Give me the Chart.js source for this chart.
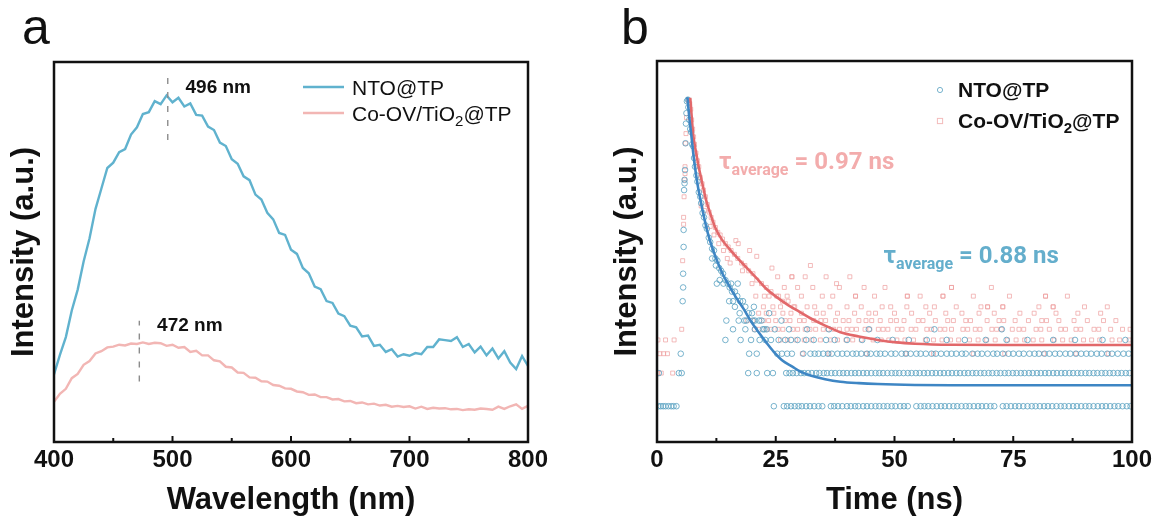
<!DOCTYPE html>
<html>
<head>
<meta charset="utf-8">
<script src="https://cdn.jsdelivr.net/npm/chart.js@4.4.1/dist/chart.umd.min.js"></script>
<style>
  html, body { margin: 0; padding: 0; background: #fff; }
  #wrap { position: relative; width: 1163px; height: 525px; }
  canvas { position: absolute; top: 0; }
  #pl { left: 0; }
  #fl { left: 581px; }
</style>
</head>
<body>
<div id="wrap">
  <canvas id="pl" width="581" height="525"></canvas>
  <canvas id="fl" width="582" height="525"></canvas>
</div>
<script>
// ---------- panel a : steady-state PL (y in arbitrary units 0..100) ----------
const wavelengths = [400, 405, 410, 415, 420, 425, 430, 435, 440, 445, 450, 455, 460, 465, 470, 475, 480, 485, 490, 495,
  500, 505, 510, 515, 520, 525, 530, 535, 540, 545, 550, 555, 560, 565, 570, 575, 580, 585, 590, 595,
  600, 605, 610, 615, 620, 625, 630, 635, 640, 645, 650, 655, 660, 665, 670, 675, 680, 685, 690, 695,
  700, 705, 710, 715, 720, 725, 730, 735, 740, 745, 750, 755, 760, 765, 770, 775, 780, 785, 790, 795, 800];
const ntoPL = [17.8, 22.9, 27.6, 34.6, 40.1, 47.5, 53.6, 61.3, 66.7, 72.1, 73.5, 76.3, 77.1, 80.9, 82.8, 86.3, 86.8, 89.7, 88.9, 91.2,
  89.4, 90.6, 88.3, 89.1, 86.1, 85.9, 83.0, 82.1, 78.8, 77.9, 74.4, 73.2, 69.9, 68.9, 65.1, 63.8, 60.3, 58.6, 55.0, 54.5,
  50.6, 49.5, 45.8, 44.4, 40.9, 40.2, 37.1, 36.6, 33.8, 33.1, 30.6, 30.2, 27.8, 28.0, 25.3, 25.6, 23.7, 24.4, 22.5, 23.1,
  22.7, 23.4, 23.1, 25.0, 25.0, 27.0, 26.8, 26.6, 27.6, 25.0, 25.8, 23.6, 25.1, 22.8, 24.6, 22.0, 23.9, 20.9, 19.2, 22.6, 20.0];
const coPL = [10.6, 12.7, 14.0, 16.8, 17.9, 20.3, 21.3, 23.3, 23.9, 24.9, 25.1, 25.6, 25.4, 25.9, 25.8, 26.2, 25.8, 26.1, 26.0, 25.3,
  25.6, 24.8, 25.0, 23.7, 24.0, 22.8, 22.8, 21.5, 21.2, 19.8, 19.6, 18.3, 18.2, 17.0, 16.9, 16.0, 15.9, 15.0, 14.8, 14.1,
  14.0, 13.3, 13.1, 12.4, 12.5, 11.8, 11.8, 11.2, 11.3, 10.7, 10.8, 10.2, 10.4, 9.9, 10.1, 9.6, 9.8, 9.3, 9.5, 9.2,
  9.4, 8.8, 9.3, 8.7, 9.0, 8.8, 8.9, 8.6, 8.7, 8.4, 8.6, 8.5, 8.8, 8.7, 8.5, 9.3, 8.7, 9.4, 9.9, 8.7, 9.5];
const waveTicks = [400, 500, 600, 700, 800];
const waveMinor = [450, 550, 650, 750];
const peakNm = [496, 472];
const peakSpan = [[79.5, 96.6], [15.9, 31.9]];
const peakText = ['496 nm', '472 nm'];
const peakTextAt = [[511, 93.1], [487, 30.7]];

// ---------- panel b : TRPL decay (counts, log axis) ----------
const timeTicks = [0, 25, 50, 75, 100];
const timeMinor = [12.5, 37.5, 62.5, 87.5];
const ntoFit = [[6.4, 644], [6.8, 420], [7.2, 298], [7.6, 205], [8.0, 148], [8.6, 100], [9.2, 73], [10.0, 50], [10.8, 36],
  [11.7, 27], [12.7, 20.7], [13.8, 16], [15.1, 12.6], [16.6, 9.8], [18.2, 7.7], [19.8, 5.9], [21.4, 4.7], [23.0, 3.8],
  [24.5, 3.15], [26.4, 2.6], [28.4, 2.3], [30.3, 2.05], [32.3, 1.9], [35.4, 1.76], [38.6, 1.67], [42.5, 1.62],
  [46.5, 1.59], [54.3, 1.56], [62, 1.55], [75, 1.55], [100, 1.55]];
const coFit = [[7.0, 635], [7.3, 430], [7.6, 298], [8.2, 205], [8.8, 148], [9.6, 103], [10.4, 73], [11.3, 55], [12.3, 41.6],
  [13.6, 33], [15.1, 27.3], [17.0, 22], [19.0, 17.9], [21.0, 14.5], [22.9, 11.8], [25.2, 9.8], [27.6, 8.3], [30.0, 7.2],
  [32.3, 6.3], [35.4, 5.4], [38.6, 4.7], [42.5, 4.3], [46.5, 4.0], [50.4, 3.8], [54.3, 3.7], [62, 3.62], [75, 3.6], [100, 3.6]];

// NTO@TP photon counts: times (ns) at each count level
const ntoCount1 = [0.3, 0.8, 1.3, 1.8, 2.4, 3.0, 3.5, 4.1, 24.6, 26.7, 27.4, 28.2, 29.0, 29.8, 30.5, 31.4, 32.2, 33.1, 34.0, 34.8,
  36.6, 37.3, 38.1, 39.0, 40.0, 40.8, 41.7, 42.4, 43.4, 44.2, 45.1, 46.0, 46.8, 47.7, 48.5, 49.4, 50.2, 51.2, 52.0, 52.8,
  54.6, 55.5, 56.3, 57.1, 58.0, 58.9, 59.8, 60.6, 61.5, 62.4, 63.2, 64.1, 65.0, 65.8, 66.7, 67.6, 68.4, 69.3, 70.2, 71.0,
  72.8, 73.6, 74.5, 75.4, 76.2, 77.1, 78.0, 78.9, 79.7, 80.6, 81.5, 82.3, 83.2, 84.1, 85.0, 85.8, 86.7, 87.6, 88.4, 89.3,
  90.2, 91.0, 91.9, 92.8, 93.7, 94.5, 95.4, 96.3, 97.1, 98.0, 98.9, 99.7];
const ntoCount2 = [0.4, 4.6, 5.2, 19.2, 21.0, 23.2, 24.4, 27.2, 27.9, 28.6, 29.4, 30.3, 31.0, 31.8, 32.6, 33.5, 34.2, 35.1, 35.8,
  36.7, 37.5, 38.4, 39.2, 40.0, 40.9, 41.7, 42.5, 43.4, 44.2, 45.1, 46.0, 46.8, 47.6, 48.5, 49.4, 50.2, 51.0, 51.9, 52.8,
  53.6, 54.5, 55.3, 56.2, 57.0, 57.9, 58.7, 59.6, 60.4, 61.3, 62.1, 63.0, 63.8, 64.7, 65.5, 66.4, 67.2, 68.1, 68.9, 69.8,
  70.6, 71.5, 72.3, 73.2, 74.0, 74.9, 75.7, 76.6, 77.4, 78.3, 79.1, 80.0, 80.8, 81.7, 82.5, 83.4, 84.2, 85.1, 85.9, 86.8,
  87.6, 88.5, 89.3, 90.2, 91.0, 91.9, 92.7, 93.6, 94.4, 95.3, 96.1, 97.0, 97.8, 98.7, 99.5];
const ntoCount3 = [5.0, 19.4, 21.0, 25.3, 26.3, 27.4, 28.4, 30.8, 32.3, 33.2, 34.0, 35.0, 36.0, 36.8, 38.0, 39.0, 40.0, 41.2,
  42.0, 43.0, 44.2, 45.0, 46.2, 47.0, 48.0, 49.3, 50.2, 51.5, 52.4, 53.4, 54.6, 55.5, 56.6, 57.8, 58.7, 59.8, 61.0, 62.0,
  63.0, 64.2, 65.0, 66.4, 67.5, 68.4, 69.6, 70.8, 71.6, 72.8, 74.0, 75.0, 76.2, 77.2, 78.4, 79.5, 80.4, 81.6, 82.6, 83.8,
  84.8, 86.0, 87.0, 88.2, 89.3, 90.4, 91.4, 92.6, 93.6, 94.8, 95.8, 97.0, 98.2, 99.3];
const ntoCount4 = [14.4, 17.6, 19.8, 21.6, 22.8, 24.0, 25.6, 27.0, 28.2, 29.6, 31.4, 33.0, 35.6, 37.4, 40.0, 43.2, 46.4, 49.6,
  53.0, 56.8, 61.0, 64.8, 69.2, 73.6, 78.0, 83.4, 88.0, 93.8, 98.6];
const ntoCount5 = [16.0, 18.6, 20.6, 22.6, 24.8, 27.8, 31.6, 36.2, 44.6, 58.4, 72.6];
const ntoCount6 = [14.6, 17.2, 18.8, 20.2, 22.0, 26.2];
const ntoDecay = [[5.4, 9], [5.5, 12], [5.5, 16], [5.6, 28], [5.6, 40], [5.7, 92], [5.8, 106], [5.8, 114], [5.9, 140],
  [6.0, 245], [6.1, 370], [6.2, 460], [6.3, 590], [6.5, 610], [6.6, 520], [6.8, 400], [7.0, 330], [7.2, 310], [7.4, 240],
  [7.6, 230], [7.8, 180], [8.0, 150], [8.3, 125], [8.5, 110], [8.8, 88], [9.1, 80], [9.3, 70], [9.6, 57], [9.9, 52],
  [10.2, 44], [10.5, 41], [10.9, 34], [11.2, 31], [11.6, 27], [12.0, 26], [12.3, 22], [12.7, 21], [13.1, 18], [13.5, 17],
  [13.9, 16], [14.4, 14], [14.9, 13], [15.3, 12], [15.8, 11], [16.4, 11], [16.9, 10], [17.5, 9], [18.1, 9], [18.6, 8],
  [19.3, 7], [20.0, 7], [20.6, 6], [21.5, 6], [22.3, 5], [23.1, 5], [11.6, 22], [12.4, 19], [13.2, 14], [14.0, 13],
  [15.2, 9], [16.0, 9], [17.4, 7], [18.4, 6], [12.6, 13], [15.6, 13], [17.0, 13], [16.4, 8], [20.4, 8], [23.6, 7]];

// Co-OV/TiO2@TP photon counts: times (ns) at each count level
const coCount2 = [0.2, 0.9, 3.3];
const coCount3 = [0.6, 1.4, 2.2, 30.6, 36.2, 44.0, 52.4, 58.2, 66.6, 73.2, 81.4, 88.2, 95.0];
const coCount4 = [0.2, 1.8, 3.6, 26.0, 27.5, 29.2, 31.0, 32.6, 34.4, 36.5, 38.0, 39.8, 41.2, 43.0, 45.5, 47.2, 48.8, 50.5,
  52.2, 54.0, 56.5, 58.2, 60.0, 61.8, 63.5, 65.8, 67.6, 69.4, 71.2, 73.8, 75.6, 77.4, 79.2, 81.0, 83.6, 85.4, 87.2, 89.8,
  91.5, 93.2, 95.8, 97.4, 99.4];
const coCount5 = [20.5, 21.5, 23.0, 24.0, 25.5, 26.5, 28.6, 29.6, 31.2, 32.2, 33.4, 35.0, 36.0, 37.2, 38.4, 40.0, 41.0, 42.0,
  43.8, 44.8, 46.6, 47.6, 48.6, 50.6, 51.6, 53.5, 54.5, 56.8, 57.8, 59.6, 60.6, 62.0, 64.4, 65.4, 67.0, 68.0, 70.5, 71.5,
  72.5, 74.8, 76.2, 77.2, 79.8, 80.8, 82.6, 85.0, 86.0, 88.2, 89.2, 92.0, 93.0, 95.5, 98.0, 99.6];
const coCount6 = [19.0, 20.2, 22.4, 23.5, 25.0, 27.0, 28.0, 30.0, 31.0, 33.0, 34.5, 35.5, 37.6, 39.2, 40.4, 42.5, 44.0, 45.2,
  47.0, 49.2, 50.4, 52.0, 55.0, 56.0, 58.6, 61.2, 62.4, 65.0, 66.0, 69.5, 72.0, 73.0, 75.4, 78.2, 81.0, 82.0, 84.6, 87.8,
  90.6, 94.0, 96.6];
const coCount7 = [21.4, 23.0, 24.6, 26.5, 28.2, 30.4, 33.6, 35.0, 38.0, 41.6, 44.6, 46.0, 50.0, 53.6, 57.4, 60.8, 64.2, 67.8,
  71.0, 76.4, 79.4, 84.0, 88.6, 93.4];
const coCount8 = [22.4, 24.4, 26.0, 28.8, 31.6, 33.2, 36.4, 40.0, 43.0, 47.4, 49.2, 52.6, 56.6, 58.4, 63.0, 68.2, 69.6, 72.8,
  80.4, 83.4, 90.0, 94.8];
const coCount10 = [20.8, 23.6, 25.6, 27.4, 30.4, 34.8, 37.0, 41.8, 45.8, 52.7, 55.4, 60.2, 66.6, 74.2, 81.8, 86.4];
const coCount12 = [26.8, 29.6, 32.8, 38.4, 43.6, 48.0, 62.0, 70.4];
const coCount15 = [25.4, 28.4, 31.2, 35.6, 40.6];
const coDecay = [[5.2, 5], [5.4, 21], [5.6, 45], [5.6, 52], [5.7, 80], [5.8, 114], [5.9, 130], [5.9, 150], [6.0, 245],
  [6.1, 300], [6.2, 420], [6.6, 600], [6.9, 560], [7.1, 500], [7.3, 400], [7.5, 330], [7.7, 280], [7.9, 240], [8.2, 200],
  [8.5, 170], [8.8, 150], [9.1, 120], [9.5, 105], [9.8, 92], [10.2, 80], [10.6, 68], [11.0, 58], [11.4, 52], [11.8, 47],
  [12.3, 42], [12.8, 38], [13.3, 36], [13.8, 33], [14.4, 30], [15.0, 28], [15.6, 26], [16.3, 24], [17.0, 22], [17.8, 20],
  [18.5, 19], [19.3, 17], [20.2, 16], [21.0, 14], [22.0, 13], [23.0, 12], [24.0, 11], [25.2, 10], [26.4, 9], [27.6, 9],
  [29.0, 8], [16.6, 32], [17.1, 30], [19.5, 26], [21.0, 23], [24.2, 18], [28.4, 15], [32.3, 19], [37.8, 13], [41.8, 10],
  [52.7, 10], [60.2, 10], [62.0, 12], [69.6, 8], [72.8, 8], [81.8, 10], [83.4, 8], [11.2, 43], [13.0, 30], [14.8, 22],
  [9.3, 66], [10.0, 60], [12.0, 36], [14.0, 26], [15.4, 20], [18.0, 17], [20.0, 13], [22.6, 10]];

const tauText = ['0.97 ns', '0.88 ns'];
const tauAt = [[13.05, 169], [47.7, 23.8]];

// ---------- colours ----------
const BLUE_PL = 'rgb(96,178,206)';
const PINK_PL = 'rgb(242,182,180)';
const BLUE_FIT = 'rgb(62,134,196)';
const RED_FIT = 'rgb(226,104,106)';
const BLUE_DOT = 'rgba(88,160,192,0.8)';
const PINK_DOT = 'rgba(238,158,158,0.7)';
const BLUE_TXT = 'rgb(100,174,204)';
const PINK_TXT = 'rgb(243,172,172)';
const INK = '#111';
const SANS = "'Liberation Sans', Arial, sans-serif";

Chart.defaults.font.family = SANS;
Chart.defaults.color = INK;

function richText(ctx, parts, x, y) {
  let cx = x;
  parts.forEach(([txt, font, dy]) => {
    ctx.font = font;
    ctx.fillText(txt, cx, y + dy);
    cx += ctx.measureText(txt).width;
  });
}

// box around plot + inward ticks on the bottom axis + panel letter
const frame = {
  id: 'frame',
  afterDraw(chart, args, opts) {
    const { ctx, chartArea: a } = chart;
    const x = chart.scales.x;
    ctx.save();
    ctx.strokeStyle = INK;
    ctx.lineWidth = 2;
    opts.major.forEach(v => {
      const px = x.getPixelForValue(v);
      ctx.beginPath(); ctx.moveTo(px, a.bottom); ctx.lineTo(px, a.bottom - 6); ctx.stroke();
    });
    opts.minor.forEach(v => {
      const px = x.getPixelForValue(v);
      ctx.beginPath(); ctx.moveTo(px, a.bottom); ctx.lineTo(px, a.bottom - 4); ctx.stroke();
    });
    ctx.lineWidth = 2.5;
    ctx.strokeRect(a.left, a.top, a.right - a.left, a.bottom - a.top);
    ctx.fillStyle = INK;
    ctx.font = '50px ' + SANS;
    ctx.textBaseline = 'alphabetic';
    ctx.fillText(opts.letter, opts.letterX, 44);
    ctx.restore();
  }
};

const plLabels = {
  id: 'plLabels',
  afterDraw(chart) {
    const { ctx, scales: { x, y } } = chart;
    const ds = chart.data.datasets;
    ctx.save();
    ctx.fillStyle = INK;
    ctx.textBaseline = 'middle';
    ctx.font = 'bold 19px ' + SANS;
    peakText.forEach((t, i) => ctx.fillText(t, x.getPixelForValue(peakTextAt[i][0]), y.getPixelForValue(peakTextAt[i][1])));
    // legend
    const rows = [[ds[0].borderColor, 87, [['NTO@TP', '21px ' + SANS, 0]]],
      [ds[1].borderColor, 113, [['Co-OV/TiO', '21px ' + SANS, 0], ['2', '15px ' + SANS, 5], ['@TP', '21px ' + SANS, 0]]]];
    ctx.lineWidth = 2.4;
    rows.forEach(([col, cy, parts]) => {
      ctx.strokeStyle = col;
      ctx.beginPath(); ctx.moveTo(303, cy); ctx.lineTo(344, cy); ctx.stroke();
      ctx.textBaseline = 'alphabetic';
      richText(ctx, parts, 352, cy + 7.5);
    });
    ctx.restore();
  }
};

const flLabels = {
  id: 'flLabels',
  afterDraw(chart) {
    const { ctx, scales: { x, y } } = chart;
    ctx.save();
    ctx.textBaseline = 'alphabetic';
    const cols = [PINK_TXT, BLUE_TXT];
    tauText.forEach((t, i) => {
      ctx.fillStyle = cols[i];
      const px = x.getPixelForValue(tauAt[i][0]);
      const py = y.getPixelForValue(tauAt[i][1]) + 8;
      richText(ctx, [['\u03C4', 'bold 24px Roboto', 0], ['average', 'bold 16px Roboto', 6], [' = ' + t, 'bold 24px Roboto', 0]], px, py);
    });
    // legend
    ctx.fillStyle = INK;
    ctx.lineWidth = 1;
    ctx.strokeStyle = BLUE_DOT;
    ctx.beginPath(); ctx.arc(359, 90, 2.6, 0, Math.PI * 2); ctx.stroke();
    ctx.strokeStyle = PINK_DOT;
    ctx.strokeRect(356.4, 118.4, 5.2, 5.2);
    richText(ctx, [['NTO@TP', 'bold 21px ' + SANS, 0]], 377, 96.5);
    richText(ctx, [['Co-OV/TiO', 'bold 21px ' + SANS, 0], ['2', 'bold 15px ' + SANS, 5], ['@TP', 'bold 21px ' + SANS, 0]], 377, 127.5);
    ctx.restore();
  }
};

const xy = (xs, ys) => xs.map((v, i) => ({ x: v, y: ys[i] }));
const pairs = arr => arr.map(([x, y]) => ({ x, y }));
const levels = list => list.flatMap(([c, ts]) => ts.map(t => ({ x: t, y: c })));

const axisTitle = (text, pad) => ({ display: true, text, color: INK, font: { size: 31, weight: 'bold' }, padding: pad });

// ---------- panel a ----------
new Chart(document.getElementById('pl'), {
  type: 'line',
  data: {
    datasets: [
      { label: 'NTO@TP', data: xy(wavelengths, ntoPL), borderColor: BLUE_PL, borderWidth: 2.4, pointRadius: 0, order: 2 },
      { label: 'Co-OV/TiO2@TP', data: xy(wavelengths, coPL), borderColor: PINK_PL, borderWidth: 2.4, pointRadius: 0, order: 3 },
      { label: 'peak NTO', data: [{ x: peakNm[0], y: peakSpan[0][0] }, { x: peakNm[0], y: peakSpan[0][1] }],
        borderColor: '#8c8c8c', borderWidth: 1.4, borderDash: [6, 8], pointRadius: 0, order: 0 },
      { label: 'peak Co', data: [{ x: peakNm[1], y: peakSpan[1][0] }, { x: peakNm[1], y: peakSpan[1][1] }],
        borderColor: '#8c8c8c', borderWidth: 1.4, borderDash: [6, 8], pointRadius: 0, order: 1 }
    ]
  },
  options: {
    responsive: false,
    animation: false,
    layout: { padding: { top: 62, right: 53, left: 0, bottom: 0 } },
    plugins: {
      legend: { display: false },
      tooltip: { enabled: false },
      frame: { major: waveTicks, minor: waveMinor, letter: 'a', letterX: 22 }
    },
    scales: {
      x: {
        type: 'linear', min: 400, max: 800,
        grid: { display: false, drawTicks: false }, border: { display: false },
        afterBuildTicks: s => { s.ticks = waveTicks.map(v => ({ value: v })); },
        afterFit: s => { s.height = 83; },
        ticks: { color: INK, font: { size: 24, weight: 'bold' }, padding: 4 },
        title: axisTitle('Wavelength (nm)', { top: 0, bottom: 6 })
      },
      y: {
        type: 'linear', min: 0, max: 100,
        grid: { display: false }, border: { display: false },
        ticks: { display: false },
        afterFit: s => { s.width = 54; },
        title: axisTitle('Intensity (a.u.)', { top: 6, bottom: 0 })
      }
    }
  },
  plugins: [frame, plLabels]
});

// ---------- panel b ----------
const dot = (data, style, color, order) => ({
  data, showLine: false, pointStyle: style, pointRadius: 2.8, borderWidth: 1,
  borderColor: color, backgroundColor: 'rgba(0,0,0,0)', order
});

new Chart(document.getElementById('fl'), {
  type: 'scatter',
  data: {
    datasets: [
      { label: 'NTO@TP fit', data: pairs(ntoFit), showLine: true, borderColor: BLUE_FIT, borderWidth: 2.6,
        pointRadius: 0, cubicInterpolationMode: 'monotone', order: 0 },
      { label: 'Co-OV/TiO2@TP fit', data: pairs(coFit), showLine: true, borderColor: RED_FIT, borderWidth: 2.6,
        pointRadius: 0, cubicInterpolationMode: 'monotone', order: 1 },
      dot(levels([[1, ntoCount1], [2, ntoCount2], [3, ntoCount3], [4, ntoCount4], [5, ntoCount5], [6, ntoCount6]])
        .concat(pairs(ntoDecay)), 'circle', BLUE_DOT, 2),
      dot(levels([[2, coCount2], [3, coCount3], [4, coCount4], [5, coCount5], [6, coCount6], [7, coCount7], [8, coCount8],
        [10, coCount10], [12, coCount12], [15, coCount15]]).concat(pairs(coDecay)), 'rect', PINK_DOT, 3)
    ]
  },
  options: {
    responsive: false,
    animation: false,
    layout: { padding: { top: 61, right: 31, left: 0, bottom: 0 } },
    plugins: {
      legend: { display: false },
      tooltip: { enabled: false },
      frame: { major: timeTicks, minor: timeMinor, letter: 'b', letterX: 40 }
    },
    scales: {
      x: {
        type: 'linear', min: 0, max: 100,
        grid: { display: false, drawTicks: false }, border: { display: false },
        afterBuildTicks: s => { s.ticks = timeTicks.map(v => ({ value: v })); },
        afterFit: s => { s.height = 83; },
        ticks: { color: INK, font: { size: 24, weight: 'bold' }, padding: 4 },
        title: axisTitle('Time (ns)', { top: 0, bottom: 6 })
      },
      y: {
        type: 'logarithmic', min: 0.473, max: 1370,
        grid: { display: false }, border: { display: false },
        ticks: { display: false },
        afterFit: s => { s.width = 76; },
        title: axisTitle('Intensity (a.u.)', { top: 28, bottom: 0 })
      }
    }
  },
  plugins: [frame, flLabels]
});
</script>
</body>
</html>
